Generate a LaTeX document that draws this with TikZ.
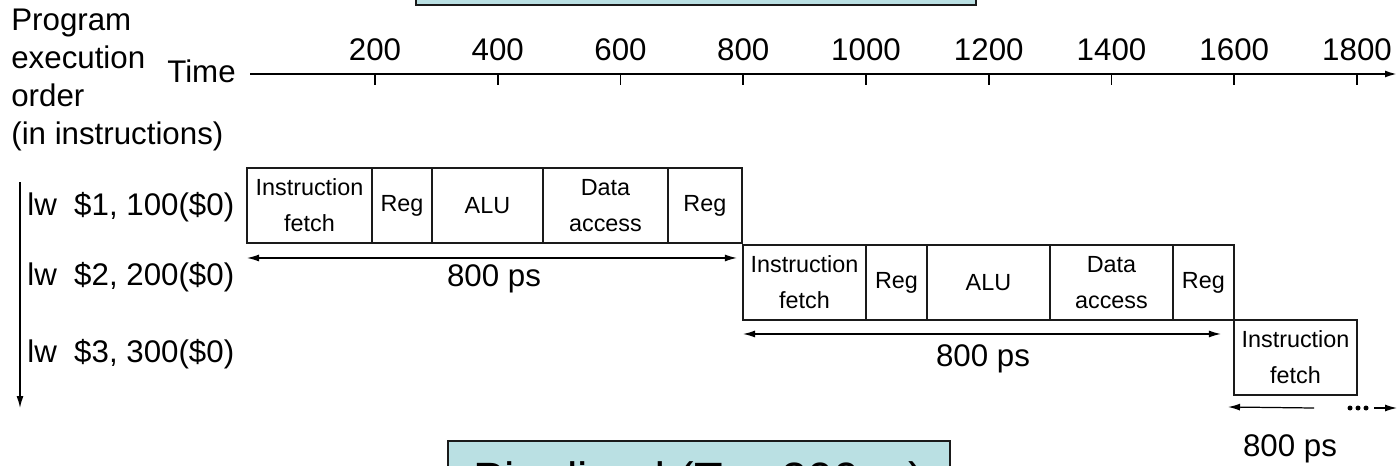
\documentclass[tikz,border=0pt]{standalone}
\usepackage{fontspec}
\setmainfont{Liberation Sans}
\usetikzlibrary{arrows.meta,positioning}
\definecolor{titlecyan}{HTML}{BAE0E3}
\definecolor{edge}{HTML}{1A1A1A}

\newcommand\lblfont{\fontsize{17.8}{21.5}\selectfont}
\newcommand\stagefont{\fontsize{13.3}{20.5}\selectfont}
\newcommand\titlefont{\fontsize{26.6}{30}\selectfont}

\begin{document}
\begin{tikzpicture}[x=0.02cm,y=-0.02cm,node distance=0pt,>={Latex[length=2.4mm,width=1.4mm]}]
\tikzset{stage/.style={draw=edge,line width=0.9pt,inner sep=0,outer sep=0,minimum height=1.5cm,align=center,font=\stagefont},
  dim/.style={<->,line width=0.7pt},
  lbl/.style={inner sep=0,font=\lblfont},
  titlebox/.style={draw=edge,line width=1.2pt,fill=titlecyan}}
\useasboundingbox (0,0) rectangle (1398,466);
% title boxes, cut by the page
\begin{scope}
\clip (0,0) rectangle (1398,466);
\node[titlebox,anchor=south,minimum width=11.2cm,minimum height=1.6cm] (single) at (696,6) {};
\node[titlebox,anchor=north,minimum width=10.04cm,inner ysep=0.42cm,font=\titlefont] (pipe) at (699,440) {Pipelined (Tc= 200ps)};
\end{scope}
% axes
\node[lbl,anchor=north west,align=left] (order) at (11,9) {Program\\execution\\order\\(in instructions)};
\node[lbl,anchor=base east] (time) at (236,83) {Time};
\coordinate (ax0) at (250,74);
\coordinate (ax1) at (1397,74);
\draw[->,line width=1.1pt] (ax0) -- (ax1);
\foreach \t [count=\i] in {200,400,...,1800}{
  \pgfmathsetmacro\tx{375+(\i-1)*122.75}
  \draw[line width=1.1pt] (\tx,74) -- (\tx,85);
  \node[lbl,anchor=base] (t\i) at (\tx,61) {\t};
}
\coordinate (ord0) at (20,182);
\coordinate (ord1) at (20,408);
\draw[->,line width=0.8pt] (ord0) -- (ord1);
% instructions
\node[lbl,anchor=base west] (i1) at (27,215) {lw\ \ \$1, 100(\$0)};
\node[lbl,anchor=base west] (i2) at (27,285) {lw\ \ \$2, 200(\$0)};
\node[lbl,anchor=base west] (i3) at (27,362) {lw\ \ \$3, 300(\$0)};
% first load
\node[stage,anchor=north west,minimum width=2.5cm] (if1) at (247,168) {Instruction\\fetch};
\node[stage,right=of if1,minimum width=1.2cm] (rd1) {Reg};
\node[stage,right=of rd1,minimum width=2.22cm] (alu1) {ALU};
\node[stage,right=of alu1,minimum width=2.5cm] (mem1) {Data\\access};
\node[stage,right=of mem1,minimum width=1.48cm] (wb1) {Reg};
% second load
\node[stage,anchor=north west,minimum width=2.46cm] (if2) at (743,245) {Instruction\\fetch};
\node[stage,right=of if2,minimum width=1.22cm] (rd2) {Reg};
\node[stage,right=of rd2,minimum width=2.46cm] (alu2) {ALU};
\node[stage,right=of alu2,minimum width=2.46cm] (mem2) {Data\\access};
\node[stage,right=of mem2,minimum width=1.22cm] (wb2) {Reg};
% third load
\node[stage,anchor=north west,minimum width=2.46cm] (if3) at (1234,320) {Instruction\\fetch};
% 800 ps spans
\draw[dim] ([yshift=-0.3cm]if1.south west) -- ([xshift=-0.1cm,yshift=-0.3cm]wb1.south east);
\node[lbl,anchor=base] (d1) at (494,286) {800 ps};
\draw[dim] ([yshift=-0.28cm]if2.south west) -- ([xshift=-0.26cm,yshift=-0.28cm]wb2.south east);
\node[lbl,anchor=base] (d2) at (983,366) {800 ps};
\coordinate (c3a) at (1314,408);
\draw[<-,line width=0.7pt] ([xshift=-0.12cm,yshift=-0.24cm]if3.south west) -- (c3a);
\foreach \d in {1350,1358,1366} \fill (\d,408) circle[radius=0.05cm];
\coordinate (c3b) at (1374,408);
\coordinate (c3c) at (1397,408);
\draw[->,line width=0.7pt] (c3b) -- (c3c);
\node[lbl,anchor=base] (d3) at (1290,456) {800 ps};
\end{tikzpicture}
\end{document}
